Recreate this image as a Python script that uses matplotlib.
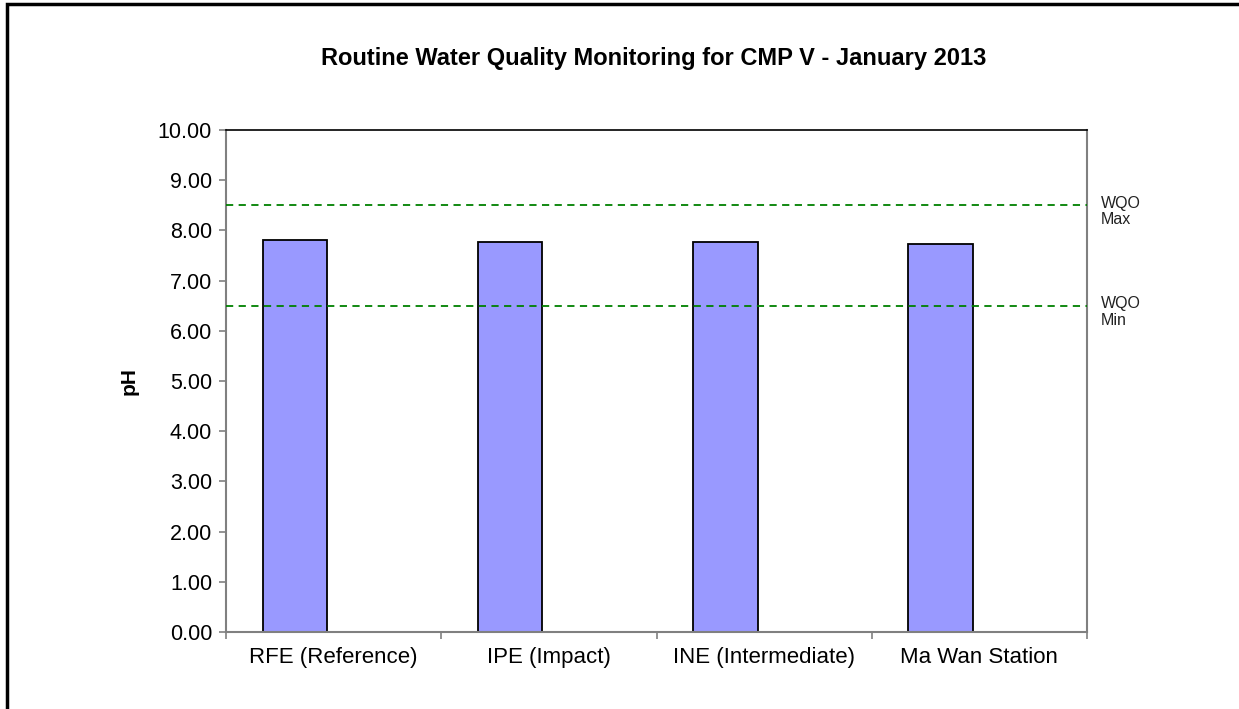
import matplotlib
matplotlib.use("Agg")
from matplotlib import pyplot as plt
from matplotlib.patches import Rectangle
import numpy as np

stations = ["RFE (Reference)", "IPE (Impact)", "INE (Intermediate)", "Ma Wan Station"]
ph_values = [7.81, 7.77, 7.76, 7.73]
wqo_max = 8.5
wqo_min = 6.5
y_ticks = [0, 1, 2, 3, 4, 5, 6, 7, 8, 9, 10]

plt.rcParams['font.family'] = ['Liberation Sans', 'DejaVu Sans']

fig = plt.figure(figsize=(12.39, 7.09), dpi=100)
ax = fig.add_axes([226/1239, 1 - 632/709, (1087 - 226)/1239, (632 - 130)/709])

x = np.arange(len(stations))
# bars sit left of the category centre (empty second series in the original)
ax.bar(x - 0.18, ph_values, width=0.30, color='#9999ff', edgecolor='black', linewidth=1.3, zorder=2)

ax.axhline(wqo_max, color='#008000', linestyle=(0, (4, 3)), linewidth=1.3, zorder=3)
ax.axhline(wqo_min, color='#008000', linestyle=(0, (4, 3)), linewidth=1.3, zorder=3)
# first line of each label is centred on its line
ax.annotate("WQO\nMax", xy=(1.0, wqo_max), xycoords=ax.get_yaxis_transform(),
            xytext=(10, 7), textcoords='offset points', fontsize=11.5,
            va='top', ha='left', color='#222222', linespacing=1.15)
ax.annotate("WQO\nMin", xy=(1.0, wqo_min), xycoords=ax.get_yaxis_transform(),
            xytext=(10, 7), textcoords='offset points', fontsize=11.5,
            va='top', ha='left', color='#222222', linespacing=1.15)

ax.set_xlim(-0.5, len(stations) - 0.5)
ax.set_ylim(0, 10)
ax.set_yticks(y_ticks)
ax.set_yticklabels(["%.2f" % v for v in y_ticks], fontsize=15.5)
ax.set_xticks(x)
ax.set_xticklabels(stations, fontsize=16)
ax.tick_params(axis='x', length=0, pad=11)
ax.set_xticks(np.arange(-0.5, len(stations)), minor=True)
ax.tick_params(axis='x', which='minor', length=5, color='#808080', width=1.2)
ax.tick_params(axis='y', length=5, color='#808080', width=1.2, pad=5)

for s in ['left', 'bottom', 'right']:
    ax.spines[s].set_color('#808080')
    ax.spines[s].set_linewidth(1.5)
ax.spines['top'].set_color('black')
ax.spines['top'].set_linewidth(1.2)

ax.set_ylabel("pH", fontsize=15, fontweight='bold', labelpad=14)
fig.text((318 + 990) / 2 / 1239, 1 - 58/709, "Routine Water Quality Monitoring for CMP V - January 2013",
         ha='center', va='center', fontsize=17, fontweight='bold')

# outer chart frame (right/bottom edges cut off in original)
fig.patches.append(Rectangle((7/1239, -0.1), 1.2, 1 - 4/709 + 0.1, transform=fig.transFigure,
                             fill=False, edgecolor='black', linewidth=2.5))

fig.savefig("out.png", dpi=100)
